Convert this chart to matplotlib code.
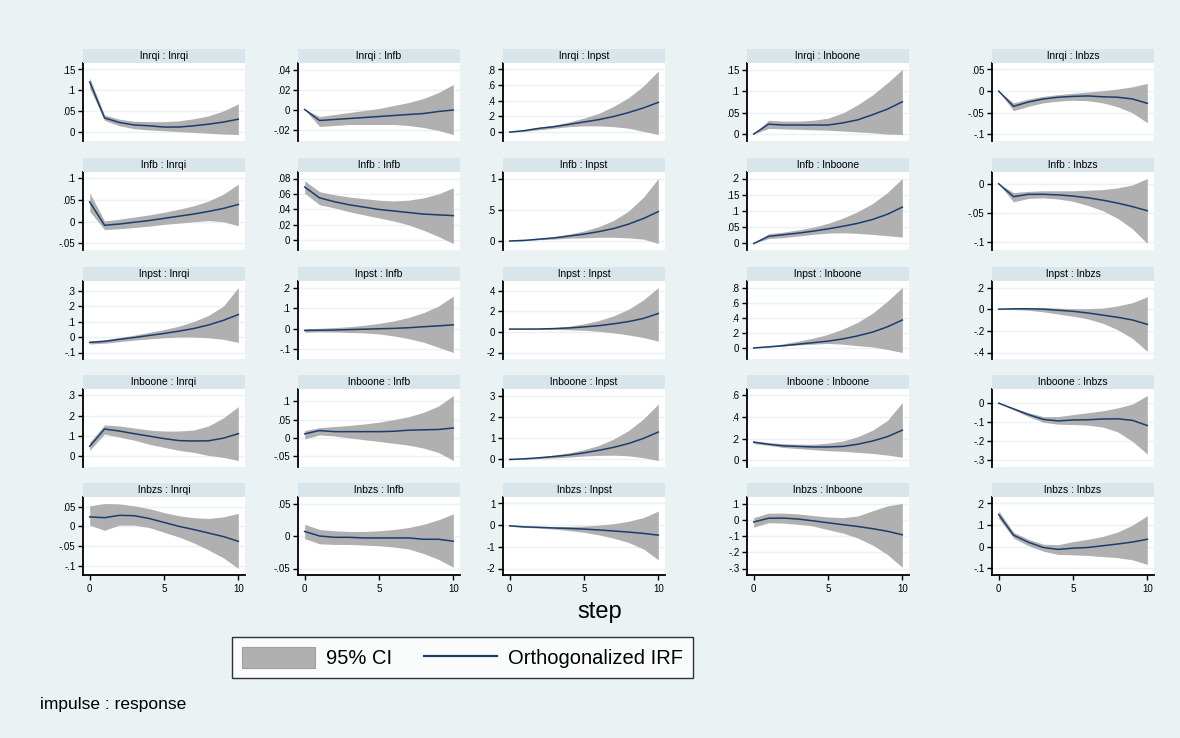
import matplotlib
matplotlib.use("Agg")
import matplotlib.pyplot as plt
from matplotlib.patches import Rectangle, Patch
from matplotlib.lines import Line2D

plt.rcParams['font.family'] = ['Liberation Sans', 'DejaVu Sans']

variables = ["lnrqi", "lnfb", "lnpst", "lnboone", "lnbzs"]
steps = list(range(11))
xticks = [0, 5, 10]

# ---------------- impulse lnrqi ----------------
irf_rqi_rqi = [0.120, 0.033, 0.022, 0.016, 0.014, 0.011, 0.011, 0.014, 0.018, 0.023, 0.030]
lo_rqi_rqi = [0.105, 0.027, 0.014, 0.007, 0.004, 0.002, 0.000, -0.002, -0.004, -0.006, -0.007]
hi_rqi_rqi = [0.130, 0.040, 0.030, 0.025, 0.024, 0.024, 0.026, 0.031, 0.038, 0.050, 0.067]
yt_rqi_rqi = [0, .05, .1, .15]

irf_rqi_fb = [0, -0.011, -0.010, -0.009, -0.008, -0.007, -0.006, -0.005, -0.004, -0.002, -0.0005]
lo_rqi_fb = [0, -0.017, -0.016, -0.015, -0.015, -0.015, -0.015, -0.016, -0.018, -0.021, -0.025]
hi_rqi_fb = [0, -0.007, -0.005, -0.003, -0.001, 0.001, 0.004, 0.007, 0.011, 0.017, 0.025]
yt_rqi_fb = [-.02, 0, .02, .04]

irf_rqi_pst = [0, 0.02, 0.05, 0.07, 0.10, 0.13, 0.16, 0.20, 0.25, 0.31, 0.38]
lo_rqi_pst = [0, 0.01, 0.03, 0.05, 0.07, 0.08, 0.08, 0.07, 0.05, 0.01, -0.03]
hi_rqi_pst = [0, 0.025, 0.06, 0.09, 0.13, 0.18, 0.24, 0.33, 0.44, 0.59, 0.78]
yt_rqi_pst = [0, .2, .4, .6, .8]

irf_rqi_boone = [0, 0.023, 0.021, 0.021, 0.021, 0.021, 0.026, 0.033, 0.045, 0.058, 0.075]
lo_rqi_boone = [0, 0.013, 0.012, 0.011, 0.010, 0.009, 0.007, 0.005, 0.003, 0.000, -0.001]
hi_rqi_boone = [0, 0.032, 0.030, 0.030, 0.032, 0.037, 0.049, 0.068, 0.091, 0.119, 0.150]
yt_rqi_boone = [0, .05, .1, .15]

irf_rqi_bzs = [0, -0.035, -0.025, -0.018, -0.014, -0.012, -0.011, -0.013, -0.014, -0.018, -0.028]
lo_rqi_bzs = [0, -0.045, -0.035, -0.027, -0.023, -0.021, -0.022, -0.027, -0.036, -0.050, -0.073]
hi_rqi_bzs = [0, -0.027, -0.018, -0.012, -0.008, -0.005, -0.002, 0.001, 0.005, 0.010, 0.018]
yt_rqi_bzs = [-.1, -.05, 0, .05]

# ---------------- impulse lnfb ----------------
irf_fb_rqi = [0.046, -0.008, -0.005, -0.001, 0.003, 0.008, 0.013, 0.018, 0.024, 0.031, 0.040]
lo_fb_rqi = [0.024, -0.018, -0.016, -0.013, -0.010, -0.006, -0.003, 0.000, 0.003, 0.000, -0.009]
hi_fb_rqi = [0.067, 0.002, 0.006, 0.011, 0.016, 0.022, 0.029, 0.037, 0.048, 0.064, 0.087]
yt_fb_rqi = [-.05, 0, .05, .1]

irf_fb_fb = [0.069, 0.055, 0.050, 0.046, 0.043, 0.040, 0.038, 0.036, 0.034, 0.033, 0.032]
lo_fb_fb = [0.061, 0.046, 0.042, 0.037, 0.033, 0.029, 0.025, 0.020, 0.013, 0.005, -0.004]
hi_fb_fb = [0.077, 0.063, 0.059, 0.056, 0.054, 0.052, 0.051, 0.052, 0.055, 0.060, 0.068]
yt_fb_fb = [0, .02, .04, .06, .08]

irf_fb_pst = [0, 0.01, 0.03, 0.05, 0.08, 0.11, 0.15, 0.20, 0.27, 0.36, 0.47]
lo_fb_pst = [0, 0.005, 0.02, 0.03, 0.045, 0.05, 0.06, 0.06, 0.05, 0.03, -0.04]
hi_fb_pst = [0, 0.015, 0.04, 0.07, 0.11, 0.16, 0.23, 0.33, 0.48, 0.70, 1.00]
yt_fb_pst = [0, .5, 1]

irf_fb_boone = [0, 0.022, 0.027, 0.032, 0.038, 0.045, 0.053, 0.062, 0.074, 0.090, 0.112]
lo_fb_boone = [0, 0.015, 0.018, 0.023, 0.028, 0.032, 0.033, 0.031, 0.028, 0.024, 0.020]
hi_fb_boone = [0, 0.030, 0.035, 0.042, 0.050, 0.062, 0.078, 0.098, 0.123, 0.157, 0.200]
yt_fb_boone = [0, .05, .1, .15, .2]

irf_fb_bzs = [0, -0.022, -0.018, -0.018, -0.019, -0.021, -0.024, -0.028, -0.033, -0.039, -0.046]
lo_fb_bzs = [0, -0.031, -0.025, -0.024, -0.026, -0.030, -0.037, -0.046, -0.059, -0.077, -0.102]
hi_fb_bzs = [0, -0.015, -0.013, -0.012, -0.012, -0.012, -0.011, -0.010, -0.007, -0.002, 0.009]
yt_fb_bzs = [-.1, -.05, 0]

# ---------------- impulse lnpst ----------------
irf_pst_rqi = [-0.035, -0.028, -0.015, -0.003, 0.010, 0.023, 0.038, 0.055, 0.078, 0.108, 0.145]
lo_pst_rqi = [-0.045, -0.040, -0.030, -0.020, -0.012, -0.005, 0.000, 0.000, -0.005, -0.015, -0.035]
hi_pst_rqi = [-0.025, -0.018, -0.003, 0.012, 0.030, 0.048, 0.070, 0.100, 0.140, 0.200, 0.320]
yt_pst_rqi = [-.1, 0, .1, .2, .3]

irf_pst_fb = [-0.008, -0.007, -0.006, -0.004, -0.002, 0.000, 0.002, 0.005, 0.010, 0.014, 0.019]
lo_pst_fb = [-0.017, -0.015, -0.016, -0.018, -0.020, -0.025, -0.035, -0.048, -0.065, -0.090, -0.115]
hi_pst_fb = [0.000, 0.002, 0.006, 0.010, 0.017, 0.026, 0.038, 0.055, 0.078, 0.110, 0.158]
yt_pst_fb = [-.1, 0, .1, .2]

irf_pst_pst = [0.27, 0.27, 0.28, 0.32, 0.38, 0.48, 0.60, 0.78, 1.00, 1.30, 1.78]
lo_pst_pst = [0.26, 0.25, 0.24, 0.23, 0.20, 0.15, 0.05, -0.10, -0.30, -0.55, -0.90]
hi_pst_pst = [0.28, 0.29, 0.32, 0.40, 0.55, 0.78, 1.10, 1.55, 2.20, 3.10, 4.30]
yt_pst_pst = [-2, 0, 2, 4]

irf_pst_boone = [0, 0.015, 0.03, 0.05, 0.07, 0.09, 0.12, 0.16, 0.21, 0.28, 0.37]
lo_pst_boone = [0, 0.01, 0.025, 0.04, 0.05, 0.06, 0.05, 0.03, 0.014, -0.02, -0.06]
hi_pst_boone = [0, 0.025, 0.055, 0.09, 0.13, 0.18, 0.25, 0.34, 0.46, 0.62, 0.80]
yt_pst_boone = [0, .2, .4, .6, .8]

irf_pst_bzs = [0, 0.003, 0.004, 0.000, -0.010, -0.020, -0.035, -0.055, -0.075, -0.100, -0.140]
lo_pst_bzs = [0, -0.003, -0.010, -0.025, -0.045, -0.065, -0.090, -0.130, -0.190, -0.270, -0.390]
hi_pst_bzs = [0, 0.010, 0.015, 0.015, 0.010, 0.005, 0.005, 0.010, 0.030, 0.060, 0.115]
yt_pst_bzs = [-.4, -.2, 0, .2]

# ---------------- impulse lnboone ----------------
irf_boone_rqi = [0.050, 0.135, 0.125, 0.112, 0.100, 0.088, 0.078, 0.076, 0.077, 0.090, 0.112]
lo_boone_rqi = [0.030, 0.110, 0.095, 0.080, 0.060, 0.045, 0.030, 0.020, 0.005, -0.005, -0.020]
hi_boone_rqi = [0.070, 0.155, 0.150, 0.140, 0.130, 0.125, 0.125, 0.130, 0.150, 0.190, 0.245]
yt_boone_rqi = [0, .1, .2, .3]

irf_boone_fb = [0.011, 0.020, 0.017, 0.017, 0.017, 0.017, 0.018, 0.021, 0.022, 0.023, 0.027]
lo_boone_fb = [-0.003, 0.008, 0.005, 0.000, -0.005, -0.010, -0.015, -0.020, -0.028, -0.040, -0.062]
hi_boone_fb = [0.020, 0.028, 0.031, 0.034, 0.038, 0.043, 0.050, 0.058, 0.070, 0.087, 0.116]
yt_boone_fb = [-.05, 0, .05, .1]

irf_boone_pst = [-0.01, 0.02, 0.07, 0.13, 0.20, 0.30, 0.42, 0.56, 0.74, 0.98, 1.28]
lo_boone_pst = [-0.03, 0.00, 0.03, 0.06, 0.10, 0.15, 0.18, 0.19, 0.16, 0.07, -0.06]
hi_boone_pst = [0.00, 0.04, 0.10, 0.20, 0.30, 0.45, 0.65, 0.95, 1.35, 1.90, 2.60]
yt_boone_pst = [0, 1, 2, 3]

irf_boone_boone = [0.17, 0.15, 0.135, 0.13, 0.125, 0.125, 0.13, 0.15, 0.18, 0.22, 0.28]
lo_boone_boone = [0.155, 0.14, 0.12, 0.11, 0.10, 0.09, 0.085, 0.075, 0.065, 0.05, 0.03]
hi_boone_boone = [0.18, 0.165, 0.155, 0.15, 0.15, 0.16, 0.18, 0.22, 0.28, 0.37, 0.535]
yt_boone_boone = [0, .2, .4, .6]

irf_boone_bzs = [0, -0.03, -0.06, -0.085, -0.093, -0.088, -0.087, -0.083, -0.082, -0.090, -0.117]
lo_boone_bzs = [0, -0.035, -0.07, -0.10, -0.11, -0.112, -0.115, -0.125, -0.15, -0.20, -0.266]
hi_boone_bzs = [0, -0.025, -0.05, -0.07, -0.07, -0.06, -0.05, -0.04, -0.025, -0.005, 0.04]
yt_boone_bzs = [-.3, -.2, -.1, 0]

# ---------------- impulse lnbzs ----------------
irf_bzs_rqi = [0.024, 0.022, 0.028, 0.027, 0.020, 0.010, 0.000, -0.008, -0.017, -0.026, -0.038]
lo_bzs_rqi = [0.003, -0.010, 0.003, 0.003, -0.003, -0.015, -0.027, -0.042, -0.060, -0.080, -0.107]
hi_bzs_rqi = [0.052, 0.058, 0.057, 0.052, 0.045, 0.035, 0.027, 0.022, 0.020, 0.024, 0.033]
yt_bzs_rqi = [-.1, -.05, 0, .05]

irf_bzs_fb = [0.007, 0.000, -0.002, -0.002, -0.003, -0.003, -0.003, -0.003, -0.005, -0.005, -0.008]
lo_bzs_fb = [-0.004, -0.012, -0.013, -0.013, -0.014, -0.015, -0.017, -0.020, -0.027, -0.036, -0.048]
hi_bzs_fb = [0.018, 0.010, 0.008, 0.007, 0.007, 0.008, 0.010, 0.013, 0.018, 0.025, 0.034]
yt_bzs_fb = [-.05, 0, .05]

irf_bzs_pst = [-0.03, -0.08, -0.10, -0.13, -0.15, -0.18, -0.22, -0.27, -0.32, -0.38, -0.46]
lo_bzs_pst = [-0.05, -0.10, -0.14, -0.18, -0.25, -0.33, -0.45, -0.60, -0.80, -1.10, -1.60]
hi_bzs_pst = [-0.01, -0.05, -0.06, -0.07, -0.06, -0.04, 0.00, 0.07, 0.18, 0.35, 0.65]
yt_bzs_pst = [-2, -1, 0, 1]

irf_bzs_boone = [-0.010, 0.013, 0.014, 0.008, -0.003, -0.015, -0.027, -0.038, -0.052, -0.068, -0.090]
lo_bzs_boone = [-0.043, -0.015, -0.017, -0.025, -0.035, -0.058, -0.079, -0.110, -0.154, -0.213, -0.293]
hi_bzs_boone = [0.017, 0.045, 0.045, 0.040, 0.030, 0.021, 0.017, 0.027, 0.060, 0.090, 0.105]
yt_bzs_boone = [-.3, -.2, -.1, 0, .1]

irf_bzs_bzs = [0.149, 0.054, 0.021, -0.003, -0.012, -0.006, -0.003, 0.005, 0.013, 0.022, 0.035]
lo_bzs_bzs = [0.132, 0.040, 0.005, -0.020, -0.035, -0.037, -0.040, -0.045, -0.050, -0.060, -0.081]
hi_bzs_bzs = [0.167, 0.067, 0.035, 0.012, 0.010, 0.024, 0.035, 0.048, 0.068, 0.100, 0.144]
yt_bzs_bzs = [-.1, 0, .1, .2]

panels = [
    [(irf_rqi_rqi, lo_rqi_rqi, hi_rqi_rqi, yt_rqi_rqi),
     (irf_rqi_fb, lo_rqi_fb, hi_rqi_fb, yt_rqi_fb),
     (irf_rqi_pst, lo_rqi_pst, hi_rqi_pst, yt_rqi_pst),
     (irf_rqi_boone, lo_rqi_boone, hi_rqi_boone, yt_rqi_boone),
     (irf_rqi_bzs, lo_rqi_bzs, hi_rqi_bzs, yt_rqi_bzs)],
    [(irf_fb_rqi, lo_fb_rqi, hi_fb_rqi, yt_fb_rqi),
     (irf_fb_fb, lo_fb_fb, hi_fb_fb, yt_fb_fb),
     (irf_fb_pst, lo_fb_pst, hi_fb_pst, yt_fb_pst),
     (irf_fb_boone, lo_fb_boone, hi_fb_boone, yt_fb_boone),
     (irf_fb_bzs, lo_fb_bzs, hi_fb_bzs, yt_fb_bzs)],
    [(irf_pst_rqi, lo_pst_rqi, hi_pst_rqi, yt_pst_rqi),
     (irf_pst_fb, lo_pst_fb, hi_pst_fb, yt_pst_fb),
     (irf_pst_pst, lo_pst_pst, hi_pst_pst, yt_pst_pst),
     (irf_pst_boone, lo_pst_boone, hi_pst_boone, yt_pst_boone),
     (irf_pst_bzs, lo_pst_bzs, hi_pst_bzs, yt_pst_bzs)],
    [(irf_boone_rqi, lo_boone_rqi, hi_boone_rqi, yt_boone_rqi),
     (irf_boone_fb, lo_boone_fb, hi_boone_fb, yt_boone_fb),
     (irf_boone_pst, lo_boone_pst, hi_boone_pst, yt_boone_pst),
     (irf_boone_boone, lo_boone_boone, hi_boone_boone, yt_boone_boone),
     (irf_boone_bzs, lo_boone_bzs, hi_boone_bzs, yt_boone_bzs)],
    [(irf_bzs_rqi, lo_bzs_rqi, hi_bzs_rqi, yt_bzs_rqi),
     (irf_bzs_fb, lo_bzs_fb, hi_bzs_fb, yt_bzs_fb),
     (irf_bzs_pst, lo_bzs_pst, hi_bzs_pst, yt_bzs_pst),
     (irf_bzs_boone, lo_bzs_boone, hi_bzs_boone, yt_bzs_boone),
     (irf_bzs_bzs, lo_bzs_bzs, hi_bzs_bzs, yt_bzs_bzs)],
]

# ---------------- style ----------------
BG = "#EAF2F3"
STRIP = "#D8E5EA"
GRID = "#EAF2F3"
LINE = "#1A3E6B"
CI = "#B0B0B0"

W, H = 1180, 738
fig = plt.figure(figsize=(W / 100, H / 100), dpi=100, facecolor=BG)

col_left = [83, 298, 503, 747, 992]
row_top = [63, 172, 281, 389, 497]
pw, ph, strip_h = 162, 78, 14


def fmt(v):
    if abs(v) < 1e-12:
        return "0"
    s = ("%g" % v)
    s = s.replace("0.", ".")
    return s


for r in range(5):
    for c in range(5):
        irf, lo, hi, yt = panels[r][c]
        x0, y0 = col_left[c], row_top[r]
        ax = fig.add_axes([x0 / W, 1 - (y0 + ph) / H, pw / W, ph / H])
        ax.set_facecolor("white")
        ax.fill_between(steps, lo, hi, color=CI, lw=0, zorder=2)
        ax.plot(steps, irf, color=LINE, lw=1.1, zorder=3)
        dmin = min(min(lo), min(yt))
        dmax = max(max(hi), max(yt))
        pad = 0.1 * (dmax - dmin)
        ax.set_ylim(dmin - pad, dmax + pad)
        ax.set_xlim(-0.45, 10.45)
        ax.set_yticks(yt)
        ax.set_yticklabels([fmt(v) for v in yt])
        ax.yaxis.grid(True, color=GRID, lw=1.0)
        ax.set_axisbelow(True)
        for s in ("top", "right"):
            ax.spines[s].set_visible(False)
        ax.spines["left"].set_color("black")
        ax.spines["left"].set_linewidth(1.3)
        ax.tick_params(axis="y", direction="out", length=3.5, width=1.0,
                       labelsize=7, pad=2, colors="black")
        if r == 4:
            ax.spines["bottom"].set_color("black")
            ax.spines["bottom"].set_linewidth(1.3)
            ax.set_xticks(xticks)
            ax.set_xticklabels([str(v) for v in xticks])
            ax.tick_params(axis="x", direction="out", length=3.5, width=1.0,
                           labelsize=7, pad=3)
        else:
            ax.spines["bottom"].set_visible(False)
            ax.set_xticks([])
        # title strip
        fig.add_artist(Rectangle((x0 / W, 1 - y0 / H), pw / W, strip_h / H,
                                 transform=fig.transFigure, facecolor=STRIP,
                                 edgecolor="none"))
        fig.text((x0 + pw / 2) / W, 1 - (y0 - strip_h / 2) / H,
                 f"{variables[r]} : {variables[c]}", ha="center", va="center",
                 fontsize=7.5)

fig.text(600 / W, 1 - 612 / H, "step", ha="center", va="center", fontsize=17)

handles = [Patch(facecolor=CI, edgecolor="#A0A0A0", lw=0.8),
           Line2D([], [], color=LINE, lw=1.6)]
leg = fig.legend(handles, ["95% CI", "Orthogonalized IRF"], loc="center",
                 bbox_to_anchor=(462.5 / W, 1 - 657.5 / H), ncol=2,
                 frameon=True, fancybox=False, edgecolor="black",
                 facecolor="white", fontsize=14.5, handlelength=3.6,
                 handleheight=1.2, handletextpad=0.55, columnspacing=1.6,
                 borderpad=0.5)
leg.get_frame().set_linewidth(1.0)

fig.text(40 / W, 1 - 704 / H, "impulse : response", ha="left", va="center",
         fontsize=12.5)

fig.savefig("out.png", dpi=100, facecolor=BG)
